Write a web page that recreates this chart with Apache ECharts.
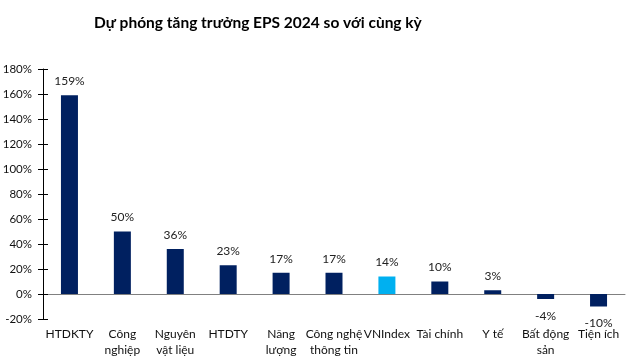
<!DOCTYPE html>
<html>
<head>
<meta charset="utf-8">
<script src="https://cdn.jsdelivr.net/npm/echarts@6/dist/echarts.min.js"></script>
<style>html,body{margin:0;padding:0;background:#fff}#c{width:627px;height:360px}</style>
</head>
<body>
<div id="c"></div>
<script>
var categories = ['HTDKTY', 'Công\nnghiệp', 'Nguyên\nvật liệu', 'HTDTY', 'Năng\nlượng', 'Công nghệ\nthông tin', 'VNIndex', 'Tài chính', 'Y tế', 'Bất động\nsản', 'Tiện ích'];
var values = [159, 50, 36, 23, 17, 17, 14, 10, 3, -4, -10];
var highlight = 'VNIndex';
var yMin = -20, yMax = 180, yStep = 20;

var navy = '#002060', light = '#00B0F0';
var chart = echarts.init(document.getElementById('c'));
var data = values.map(function (v, i) {
  return {
    value: v,
    itemStyle: { color: categories[i] === highlight ? light : navy },
    label: { position: v >= 0 ? 'top' : 'bottom', distance: v >= 0 ? 8 : 11 }
  };
});
var font = 'Lato';
chart.setOption({
  animation: false,
  title: {
    text: 'Dự phóng tăng trưởng EPS 2024 so với cùng kỳ',
    left: 89, top: 10,
    textStyle: { fontFamily: font, fontSize: 15.5, fontWeight: 'bold', color: '#000' }
  },
  grid: { left: 43, right: 2, top: 69, bottom: 41, containLabel: false, outerBoundsMode: 'none' },
  xAxis: {
    type: 'category',
    data: categories,
    axisLine: { onZero: true, lineStyle: { color: '#808080', width: 1 } },
    axisTick: { inside: true, length: 4, lineStyle: { color: '#404040' } },
    axisLabel: { margin: 7, fontFamily: font, fontSize: 12, color: '#111', lineHeight: 16, interval: 0 }
  },
  yAxis: [{
    type: 'value', min: yMin, max: yMax, interval: yStep,
    axisLine: { show: true, lineStyle: { color: '#000' } },
    axisTick: { show: true, length: 5, lineStyle: { color: '#000' } },
    splitLine: { show: false },
    axisLabel: { formatter: '{value}%', margin: 11, fontFamily: font, fontSize: 11.5, color: '#111' }
  }, {
    type: 'value', min: yMin, max: yMax, interval: yStep, position: 'left',
    axisLine: { show: false },
    axisTick: { show: true, inside: true, length: 5, lineStyle: { color: '#000' } },
    splitLine: { show: false },
    axisLabel: { show: false }
  }],
  series: [{
    type: 'bar',
    data: data,
    barWidth: 17,
    label: { show: true, formatter: '{c}%', fontFamily: font, fontSize: 12, color: '#222' }
  }]
});
</script>
</body>
</html>
